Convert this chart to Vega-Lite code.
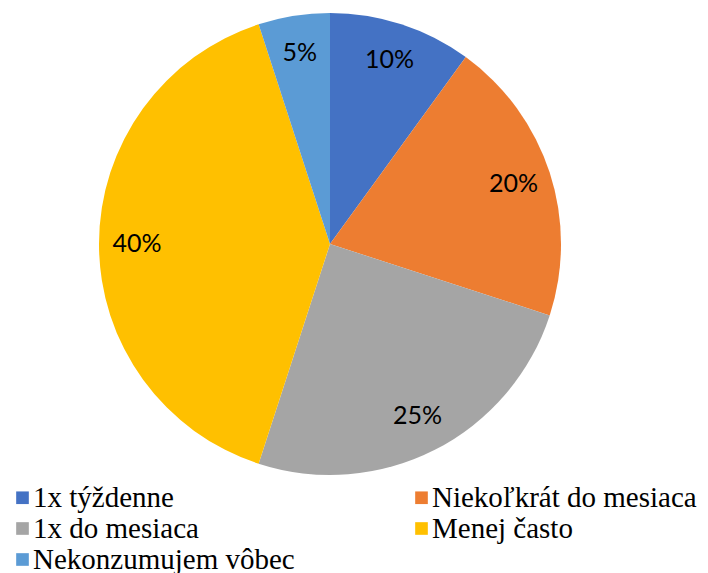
{
  "$schema": "https://vega.github.io/schema/vega-lite/v6.json",
  "width": 660,
  "height": 488,
  "autosize": "none",
  "padding": {"left": 0, "top": 0, "right": 48, "bottom": 85},
  "background": "white",
  "data": {"values": [
    {"kategoria": "1x týždenne", "podiel": 10, "poradie": 1, "label": "10%"},
    {"kategoria": "Niekoľkrát do mesiaca", "podiel": 20, "poradie": 2, "label": "20%"},
    {"kategoria": "1x do mesiaca", "podiel": 25, "poradie": 3, "label": "25%"},
    {"kategoria": "Menej často", "podiel": 40, "poradie": 4, "label": "40%"},
    {"kategoria": "Nekonzumujem vôbec", "podiel": 5, "poradie": 5, "label": "5%"}
  ]},
  "encoding": {
    "theta": {"field": "podiel", "type": "quantitative", "stack": true},
    "order": {"field": "poradie", "type": "quantitative"}
  },
  "layer": [
    {
      "mark": {"type": "arc", "outerRadius": 231},
      "encoding": {
        "color": {
          "field": "kategoria",
          "type": "nominal",
          "scale": {
            "domain": ["1x týždenne", "Niekoľkrát do mesiaca", "1x do mesiaca", "Menej často", "Nekonzumujem vôbec"],
            "range": ["#4472C4", "#ED7D31", "#A5A5A5", "#FFC000", "#5B9BD5"]
          },
          "legend": {
            "title": null,
            "orient": "none",
            "legendX": 8,
            "legendY": 483,
            "columns": 2,
            "columnPadding": 112,
            "rowPadding": 1,
            "values": ["1x týždenne", "1x do mesiaca", "Nekonzumujem vôbec", "Niekoľkrát do mesiaca", "Menej často"],
            "symbolType": "square",
            "symbolSize": 160,
            "symbolStrokeWidth": 0,
            "labelFont": "Liberation Serif",
            "labelFontSize": 29,
            "labelColor": "black",
            "labelOffset": -4,
            "labelLimit": 400
          }
        }
      }
    },
    {
      "mark": {"type": "text", "radius": 193, "font": "Lato", "fontSize": 25, "color": "black"},
      "encoding": {"text": {"field": "label", "type": "nominal"}}
    }
  ]
}
